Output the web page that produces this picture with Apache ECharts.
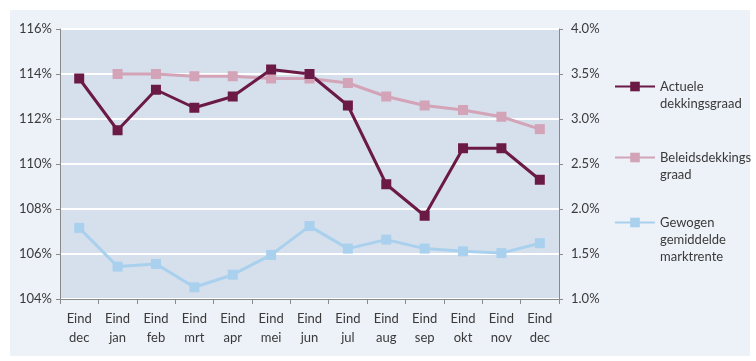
<!DOCTYPE html>
<html>
<head>
<meta charset="utf-8">
<script src="https://cdn.jsdelivr.net/npm/echarts@6/dist/echarts.min.js"></script>
<style>
    html, body { margin: 0; padding: 0; background: #ffffff; }
    #chart { width: 756px; height: 361px; }
</style>
</head>
<body>
<div id="chart"></div>
<script>
    var categories = ['Eind\ndec', 'Eind\njan', 'Eind\nfeb', 'Eind\nmrt', 'Eind\napr', 'Eind\nmei', 'Eind\njun',
        'Eind\njul', 'Eind\naug', 'Eind\nsep', 'Eind\nokt', 'Eind\nnov', 'Eind\ndec'];
    // dekkingsgraad, linker as (%)
    var actueel = [113.8, 111.5, 113.3, 112.5, 113.0, 114.2, 114.0, 112.6, 109.1, 107.7, 110.7, 110.7, 109.3];
    var beleid = [null, 114.0, 114.0, 113.9, 113.9, 113.8, 113.8, 113.6, 113.0, 112.6, 112.4, 112.1, 111.55];
    // marktrente, rechter as (%)
    var marktrente = [1.79, 1.36, 1.39, 1.13, 1.27, 1.49, 1.81, 1.56, 1.66, 1.56, 1.53, 1.51, 1.62];

    var names = ['Actuele\ndekkingsgraad', 'Beleidsdekkings\ngraad', 'Gewogen\ngemiddelde\nmarktrente'];
    var colors = ['#6b1a46', '#d3a3b7', '#a9d1ee'];

    var font = 'Lato';
    var txt = '#3a3a3a';

    // first text line next to the icon: put empty lines in front
    function legendFor(i, top, lines) {
        return {
            orient: 'vertical',
            left: 609,
            top: top,
            itemWidth: 40,
            itemHeight: 12,
            itemGap: 0,
            data: [names[i]],
            formatter: function (name) {
                var pre = '';
                for (var k = 1; k < lines; k++) pre += ' \n';
                return pre + name;
            },
            textStyle: { fontFamily: font, fontSize: 13, color: txt, lineHeight: 17 }
        };
    }

    var myChart = echarts.init(document.getElementById('chart'));
    var option = {
        animation: false,
        graphic: [{
            type: 'rect', z: -10, silent: true,
            shape: { x: 10, y: 10, width: 740, height: 346 },
            style: { fill: '#edf1f8' }
        }],
        grid: {
            left: 60, top: 29, width: 499, height: 270,
            show: true, backgroundColor: '#d6dfec', borderWidth: 0
        },
        legend: [legendFor(0, 56, 2), legendFor(1, 127, 2), legendFor(2, 175, 3)],
        xAxis: {
            type: 'category',
            data: categories,
            boundaryGap: true,
            axisLine: { lineStyle: { color: '#8a8a8a', width: 1 } },
            axisTick: { show: true, length: 5, lineStyle: { color: '#8a8a8a' } },
            axisLabel: { fontFamily: font, fontSize: 13, color: txt, lineHeight: 19, margin: 10 }
        },
        yAxis: [{
            type: 'value',
            min: 104, max: 116, interval: 2,
            axisLine: { show: true, lineStyle: { color: '#8a8a8a' } },
            axisTick: { show: true, length: 4, lineStyle: { color: '#8a8a8a' } },
            splitLine: { show: true, lineStyle: { color: '#ffffff', width: 2 } },
            axisLabel: {
                fontFamily: font, fontSize: 13, color: txt, margin: 8,
                formatter: function (v) { return v + '%'; }
            }
        }, {
            type: 'value',
            min: 1.0, max: 4.0, interval: 0.5,
            position: 'right',
            axisLine: { show: true, lineStyle: { color: '#8a8a8a' } },
            axisTick: { show: true, length: 4, lineStyle: { color: '#8a8a8a' } },
            splitLine: { show: false },
            axisLabel: {
                fontFamily: font, fontSize: 13, color: txt, margin: 12,
                formatter: function (v) { return v.toFixed(1) + '%'; }
            }
        }],
        series: [{
            name: names[1], type: 'line', yAxisIndex: 0, data: beleid,
            symbol: 'rect', symbolSize: 10, color: colors[1],
            lineStyle: { width: 3, color: colors[1] }, itemStyle: { color: colors[1] }
        }, {
            name: names[2], type: 'line', yAxisIndex: 1, data: marktrente,
            symbol: 'rect', symbolSize: 10, color: colors[2],
            lineStyle: { width: 3, color: colors[2] }, itemStyle: { color: colors[2] }
        }, {
            name: names[0], type: 'line', yAxisIndex: 0, data: actueel,
            symbol: 'rect', symbolSize: 10, color: colors[0],
            lineStyle: { width: 3, color: colors[0] }, itemStyle: { color: colors[0] }
        }]
    };
    myChart.setOption(option);
</script>
</body>
</html>
